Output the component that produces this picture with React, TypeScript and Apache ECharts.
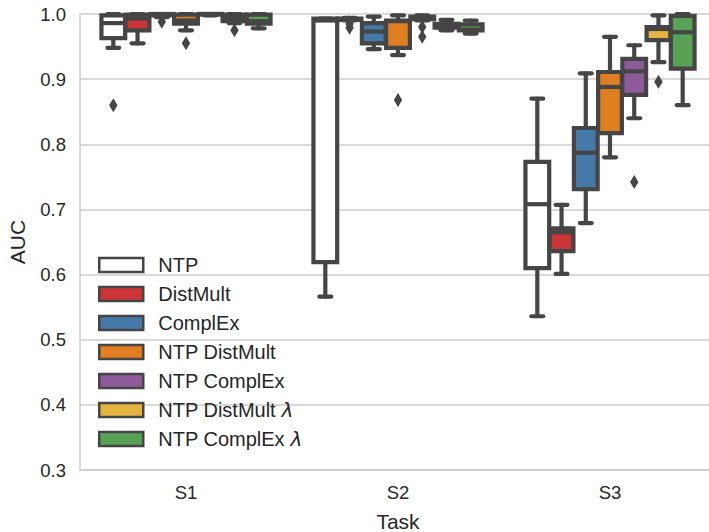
import React, { useEffect, useRef } from "react";
import * as echarts from "echarts";

// ---- data ----
const tasks = ["S1", "S2", "S3"];
const yTicks = [0.3, 0.4, 0.5, 0.6, 0.7, 0.8, 0.9, 1.0];
const models = [
  "NTP",
  "DistMult",
  "ComplEx",
  "NTP DistMult",
  "NTP ComplEx",
  "NTP DistMult λ",
  "NTP ComplEx λ",
];
const modelColors = ["#ffffff", "#cb3537", "#4479a8", "#df7f22", "#8e5a99", "#e3b440", "#58a256"];

// per task: [min, q1, median, q3, max]
const ntpBoxes = [
  [0.948, 0.963, 0.986, 0.998, 1.0],
  [0.566, 0.619, 0.99, 0.993, 0.993],
  [0.536, 0.61, 0.708, 0.773, 0.87],
];
const distMultBoxes = [
  [0.955, 0.975, 0.993, 0.999, 1.0],
  [0.99, 0.991, 0.992, 0.993, 0.994],
  [0.601, 0.636, 0.665, 0.671, 0.707],
];
const complExBoxes = [
  [0.995, 0.998, 0.999, 1.0, 1.0],
  [0.946, 0.955, 0.973, 0.986, 0.996],
  [0.679, 0.731, 0.787, 0.825, 0.909],
];
const ntpDistMultBoxes = [
  [0.975, 0.985, 0.99, 0.999, 1.0],
  [0.937, 0.948, 0.989, 0.99, 0.998],
  [0.78, 0.817, 0.888, 0.911, 0.965],
];
const ntpComplExBoxes = [
  [0.998, 0.999, 1.0, 1.0, 1.0],
  [0.99, 0.992, 0.994, 0.996, 0.998],
  [0.84, 0.876, 0.912, 0.931, 0.952],
];
const ntpDistMultLambdaBoxes = [
  [0.986, 0.989, 0.995, 0.999, 1.0],
  [0.975, 0.979, 0.982, 0.985, 0.991],
  [0.926, 0.96, 0.977, 0.98, 0.998],
];
const ntpComplExLambdaBoxes = [
  [0.978, 0.985, 0.989, 0.999, 1.0],
  [0.97, 0.975, 0.976, 0.984, 0.99],
  [0.86, 0.916, 0.972, 0.997, 1.0],
];

// outliers: [taskIndex, value]
const ntpOutliers = [[0, 0.86]];
const distMultOutliers = [[1, 0.985], [1, 0.979]];
const complExOutliers = [[0, 0.988]];
const ntpDistMultOutliers = [[0, 0.955], [1, 0.868]];
const ntpComplExOutliers = [[1, 0.98], [1, 0.965], [2, 0.742]];
const ntpDistMultLambdaOutliers = [[0, 0.975], [2, 0.896]];
const ntpComplExLambdaOutliers: number[][] = [];

const allBoxes = [
  ntpBoxes,
  distMultBoxes,
  complExBoxes,
  ntpDistMultBoxes,
  ntpComplExBoxes,
  ntpDistMultLambdaBoxes,
  ntpComplExLambdaBoxes,
];
const allOutliers = [
  ntpOutliers,
  distMultOutliers,
  complExOutliers,
  ntpDistMultOutliers,
  ntpComplExOutliers,
  ntpDistMultLambdaOutliers,
  ntpComplExLambdaOutliers,
];

const EDGE = "#454545";
const TEXT = "#262626";
const GRID = "#cccccc";
const FONT = "'Liberation Sans', Arial, sans-serif";
const LW = 4.2;

export default function App() {
  const ref = useRef<HTMLDivElement>(null);
  useEffect(() => {
    if (!ref.current) return;
    const chart = echarts.init(ref.current, undefined, { renderer: "svg", width: 709, height: 532 });
    const n = models.length;

    const boxSeries = models.map((name, h) => ({
      type: "custom",
      name,
      itemStyle: { color: modelColors[h] },
      encode: { x: 0, y: [1, 2, 3, 4, 5] },
      data: allBoxes[h].map((b, i) => [i, ...b]),
      z: 3,
      renderItem: (params: any, api: any) => {
        const cat = api.value(0);
        const bw = api.size([1, 0])[0];
        const w = (bw * 0.8) / n;
        const boxW = w * 0.98;
        const xC = api.coord([cat, 0])[0] + (h - (n - 1) / 2) * w;
        const yMin = api.coord([cat, api.value(1)])[1];
        const yQ1 = api.coord([cat, api.value(2)])[1];
        const yMed = api.coord([cat, api.value(3)])[1];
        const yQ3 = api.coord([cat, api.value(4)])[1];
        const yMax = api.coord([cat, api.value(5)])[1];
        const ls = { stroke: EDGE, lineWidth: LW, lineCap: "round" };
        const capHalf = boxW / 4;
        return {
          type: "group",
          children: [
            { type: "line", shape: { x1: xC, y1: yQ1, x2: xC, y2: yMin }, style: ls },
            { type: "line", shape: { x1: xC, y1: yQ3, x2: xC, y2: yMax }, style: ls },
            { type: "line", shape: { x1: xC - capHalf, y1: yMin, x2: xC + capHalf, y2: yMin }, style: ls },
            { type: "line", shape: { x1: xC - capHalf, y1: yMax, x2: xC + capHalf, y2: yMax }, style: ls },
            {
              type: "rect",
              shape: { x: xC - boxW / 2, y: yQ3, width: boxW, height: yQ1 - yQ3 },
              style: { fill: modelColors[h], stroke: EDGE, lineWidth: LW },
            },
            {
              type: "line",
              shape: { x1: xC - boxW / 2, y1: yMed, x2: xC + boxW / 2, y2: yMed },
              style: { stroke: EDGE, lineWidth: LW },
            },
          ],
        };
      },
    }));

    const outlierSeries = models.map((name, h) => ({
      type: "custom",
      name: name + " outliers",
      encode: { x: 0, y: 1 },
      data: allOutliers[h],
      z: 4,
      renderItem: (params: any, api: any) => {
        const cat = api.value(0);
        const bw = api.size([1, 0])[0];
        const w = (bw * 0.8) / n;
        const p = api.coord([cat, api.value(1)]);
        const x = p[0] + (h - (n - 1) / 2) * w;
        const y = p[1];
        return {
          type: "polygon",
          shape: { points: [[x, y - 7], [x + 4.2, y], [x, y + 7], [x - 4.2, y]] },
          style: { fill: EDGE },
        };
      },
    }));

    chart.setOption({
      animation: false,
      backgroundColor: "#ffffff",
      textStyle: { fontFamily: FONT },
      grid: { left: 80, top: 14, bottom: 62, right: -7, containLabel: false, outerBoundsMode: "none" },
      legend: {
        orient: "vertical",
        left: 93,
        top: 250,
        icon: "rect",
        itemWidth: 44,
        itemHeight: 14,
        itemGap: 9,
        selectedMode: false,
        formatter: (name: string) =>
          name.endsWith("λ") ? `${name.slice(0, -1)}{i|λ}` : name,
        textStyle: {
          fontSize: 20,
          color: TEXT,
          fontFamily: FONT,
          lineHeight: 20,
          padding: [0, 0, 0, 10],
          rich: {
            i: { fontSize: 20, fontStyle: "italic", color: TEXT, fontFamily: "'DejaVu Sans', sans-serif", lineHeight: 20 },
          },
        },
        data: models.map((m, h) => ({
          name: m,
          itemStyle: { color: modelColors[h], borderColor: EDGE, borderWidth: 2.5 },
        })),
      },
      xAxis: {
        type: "category",
        data: tasks,
        name: "Task",
        nameLocation: "middle",
        nameGap: 41,
        nameTextStyle: { fontSize: 21, color: TEXT, fontFamily: FONT },
        axisLine: { show: true, lineStyle: { color: GRID, width: 1.5 } },
        axisTick: { show: false },
        axisLabel: { fontSize: 18.5, color: TEXT, margin: 13, fontFamily: FONT },
        splitLine: { show: false },
      },
      yAxis: {
        type: "value",
        min: yTicks[0],
        max: yTicks[yTicks.length - 1],
        interval: 0.1,
        name: "AUC",
        nameLocation: "middle",
        nameGap: 52,
        nameTextStyle: { fontSize: 21, color: TEXT, fontFamily: FONT },
        axisLine: { show: true, lineStyle: { color: GRID, width: 1.5 } },
        axisTick: { show: false },
        axisLabel: {
          fontSize: 18.5,
          color: TEXT,
          margin: 14,
          fontFamily: FONT,
          formatter: (v: number) => v.toFixed(1),
        },
        splitLine: { show: true, lineStyle: { color: GRID, width: 1.5 } },
      },
      series: [...boxSeries, ...outlierSeries],
    });
    return () => chart.dispose();
  }, []);
  return (
    <div
      ref={ref}
      style={{ position: "fixed", left: 0, top: 0, width: 709, height: 532, background: "#fff" }}
    />
  );
}
